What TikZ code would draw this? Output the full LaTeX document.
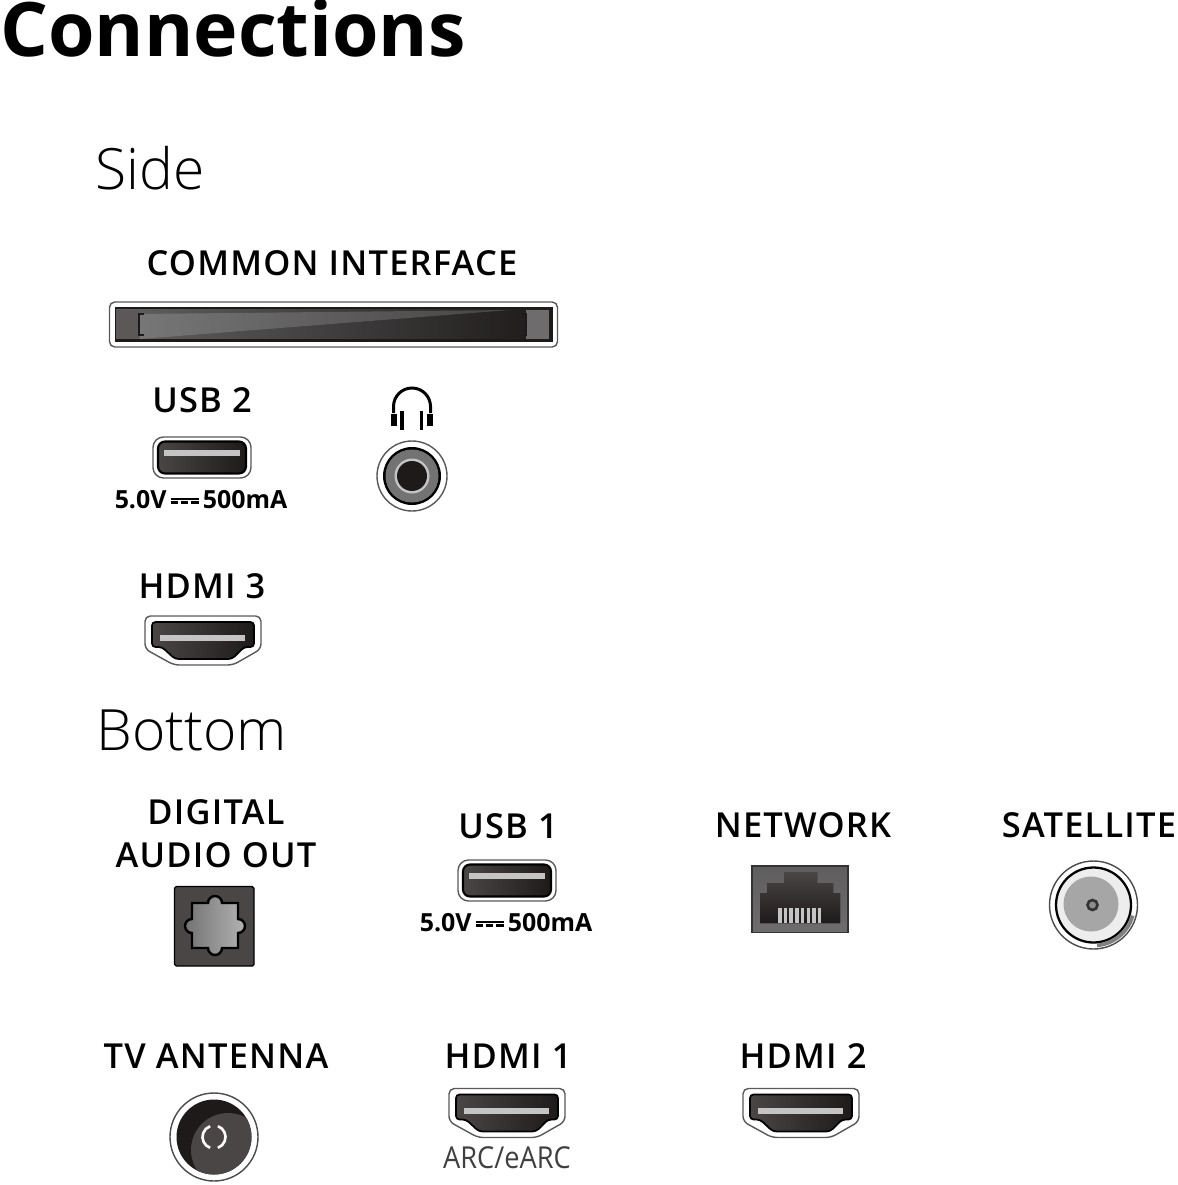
\documentclass[tikz,border=0pt]{standalone}
\usepackage{fontspec}
\setmainfont{Open Sans}
\newfontfamily\lightfont{Open Sans Light}
\newfontfamily\labelfont[LetterSpace=3.5]{Open Sans Semibold}
\usetikzlibrary{positioning}

\definecolor{portdark}{HTML}{1E1A1A}
\definecolor{portmid}{HTML}{4A4646}
\definecolor{portgray}{HTML}{6E6C6C}
\definecolor{portlight}{HTML}{C4C4C4}

\newcommand{\dcsym}{\raisebox{.62ex}{\rlap{\rule{1.12em}{.09em}}}%
  \raisebox{.38ex}{\rule{.3em}{.09em}\hspace{.11em}\rule{.3em}{.09em}\hspace{.11em}\rule{.3em}{.09em}}}

\tikzset{
  portlabel/.style={inner sep=0pt,align=center,font=\fontsize{19.6}{24.5}\selectfont\labelfont},
  ratinglabel/.style={inner sep=0pt,font=\fontsize{14.2}{16}\selectfont\bfseries},
  heading/.style={inner sep=0pt,anchor=base west,font=\fontsize{32.4}{36}\selectfont\lightfont},
  pics/usbport/.style={code={
    \draw[line width=.8pt,draw=black!65,fill=white,rounded corners=6] (-49,-20.5) rectangle (49,20.5);
    \draw[line width=1.2pt,draw=black,left color=portmid,right color=portdark,rounded corners=4] (-44,-16) rectangle (44,16);
    \fill[portlight] (-38,-8) rectangle (38,-2);
  }},
  pics/hdmiport/.style={code={
    \draw[line width=.8pt,draw=black!65,fill=white,rounded corners=3]
      (-58,-24) -- (58,-24) -- (58,9) -- (30,25) -- (-29,25) -- (-58,9) -- cycle;
    \draw[line width=1pt,draw=black,left color=portmid,right color=portdark,rounded corners=2]
      (-51,-18) -- (51,-18) -- (51,7) -- (41,7) -- (29,19) -- (-28,19) -- (-41,7) -- (-51,7) -- cycle;
    \fill[portlight] (-43,-5) rectangle (42,1);
  }}
}

\begin{document}
\begin{tikzpicture}[x=0.02cm,y=-0.02cm]
  \useasboundingbox (0,0) rectangle (1177,1185);

  % Headings
  \node[inner sep=0pt,anchor=base west,font=\fontsize{42.8}{46}\selectfont\bfseries] (title) at (0,57) {Connections};
  \node[heading] (side) at (95,190) {Side};
  \node[heading] (bottom) at (96,750) {Bottom};

  % Side labels
  \node[portlabel] (cilabel) at (332,263) {COMMON INTERFACE};
  \node[portlabel] (usbtwolabel) at (202,400) {USB 2};
  \node[ratinglabel] (usbtworating) at (201,500) {5.0V\,\dcsym\,500mA};
  \node[portlabel] (hdmithreelabel) at (202,586) {HDMI 3};

  % Common interface slot
  \draw[line width=.8pt,draw=black!65,fill=white,rounded corners=3] (109.5,302) rectangle (557.5,347);
  \fill[portdark] (115,307) rectangle (553,342);
  \shade[left color=black!62,right color=portdark] (116,310) rectangle (549,339);
  \fill[white,opacity=.16] (140,314) -- (510,310) -- (140,339) -- cycle;
  \fill[portmid!90] (116,310) rectangle (139,339);
  \fill[portgray] (526,310) rectangle (549,339);
  \draw[line width=1pt,portdark] (144,314) -- (139,314) -- (139,335) -- (144,335);
  \draw[line width=1pt,portdark] (521,314) -- (526,314) -- (526,335) -- (521,335);

  % Headphone symbol and jack
  \draw[line width=1.7pt] (393.5,413) -- (393.5,406.5) arc[start angle=180,end angle=360,radius=18.5] -- (430.5,413);
  \fill (391,414) rectangle (397,426);
  \fill (427,414) rectangle (433,426);
  \draw[line width=2pt] (402,411) -- (402,430);
  \draw[line width=2pt] (421.5,411) -- (421.5,430);
  \node[circle,draw=black!65,fill=white,line width=.8pt,minimum size=70*0.02cm,inner sep=0pt] (jack) at (412,476) {};
  \fill[black] (jack) circle (29);
  \fill[black!55] (jack) circle (26.5);
  \fill[portlight] (jack) circle (17.5);
  \fill[portdark] (jack) circle (15);

  \pic at (202,457.5) {usbport};
  \pic at (203,640) {hdmiport};

  % Bottom labels
  \node[portlabel] (audiolabel) at (216,834) {DIGITAL\\AUDIO OUT};
  \node[portlabel] (usbonelabel) at (508,826) {USB 1};
  \node[ratinglabel] (usbonerating) at (506,923) {5.0V\,\dcsym\,500mA};
  \node[portlabel] (networklabel) at (803,825) {NETWORK};
  \node[portlabel] (satlabel) at (1089,825) {SATELLITE};
  \node[portlabel] (antennalabel) at (216,1056) {TV ANTENNA};
  \node[portlabel] (hdmionelabel) at (508,1056) {HDMI 1};
  \node[portlabel] (hdmitwolabel) at (803,1056) {HDMI 2};
  \node[inner sep=0pt,font=\fontsize{17.2}{20}\selectfont,text=black!75,xscale=.9] (arclabel) at (507,1158) {ARC/eARC};

  % Digital audio out
  \draw[line width=.8pt,draw=black,fill=portmid,rounded corners=1] (174.5,886.5) rectangle (254,966);
  \draw[line width=1.4pt,draw=black,left color=black!55,right color=black!30]
    (192,903) -- (208,903) arc[start angle=180,end angle=360,radius=7] -- (238,903) -- (238,919)
    arc[start angle=-90,end angle=90,radius=7] -- (238,948) -- (222,948)
    arc[start angle=0,end angle=180,radius=7] -- (192,948) -- (192,933)
    arc[start angle=90,end angle=270,radius=7] -- cycle;

  \pic at (507,880.5) {usbport};

  % Network socket
  \draw[line width=.8pt,draw=black!80,top color=portgray!110,bottom color=portgray] (752,866) rectangle (848,932.5);
  \fill[top color=portmid,bottom color=portdark] (784,872) -- (817,872) -- (817,883) -- (833,883) -- (833,893) -- (840,893)
    -- (840,923) -- (760,923) -- (760,893) -- (767,893) -- (767,883) -- (784,883) -- cycle;
  \foreach \k in {0,...,7}
    \fill[portlight] (778+\k*5.7,908) rectangle (781.5+\k*5.7,923);

  % Satellite socket
  \node[circle,draw=black!70,fill=white,line width=.8pt,minimum size=88*0.02cm,inner sep=0pt] (sat) at (1093.5,905) {};
  \draw[line width=1.3pt,black,fill=black!7] (sat) circle (37.5);
  \fill[black!35] (1091,904) circle (27.5);
  \draw[line width=1.5pt,draw=black!80,fill=black!45] (1092.5,905) circle (5);
  \draw[line width=2.2pt,black!50] (sat.center) ++(15:40.5) arc[start angle=15,end angle=85,radius=40.5];

  % Antenna socket
  \node[circle,draw=black!70,fill=white,line width=.8pt,minimum size=88*0.02cm,inner sep=0pt] (ant) at (214,1137) {};
  \fill[portdark] (ant) circle (37.5);
  \begin{scope}
    \clip (ant) circle (37.5);
    \fill[portmid] (228,1150) circle (37);
  \end{scope}
  \draw[line width=1.5pt,white] (ant.center) ++(110:11.5) arc[start angle=110,end angle=250,radius=11.5];
  \draw[line width=1.5pt,white] (ant.center) ++(-70:11.5) arc[start angle=-70,end angle=70,radius=11.5];

  \pic at (507,1112.5) {hdmiport};
  \pic at (801,1112.5) {hdmiport};
\end{tikzpicture}
\end{document}
